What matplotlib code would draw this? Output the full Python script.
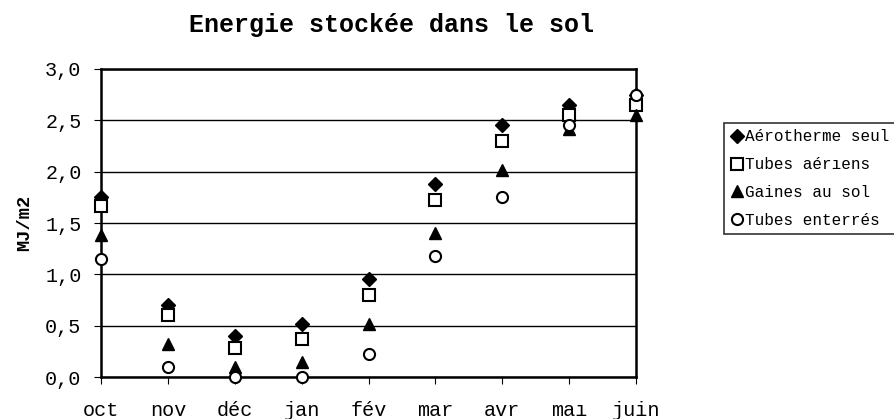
import numpy as np
import matplotlib.pyplot as plt
from matplotlib.ticker import FuncFormatter

mois = ['oct', 'nov', 'déc', 'jan', 'fév', 'mar', 'avr', 'maı', 'juin']
aerotherme = [1.75, 0.70, 0.40, 0.52, 0.95, 1.88, 2.45, 2.65, 2.75]
tubes_aeriens = [1.67, 0.60, 0.28, 0.37, 0.80, 1.72, 2.30, 2.55, 2.65]
gaines_sol = [1.38, 0.32, 0.10, 0.15, 0.52, 1.40, 2.02, 2.42, 2.55]
tubes_enterres = [1.15, 0.10, 0.00, 0.00, 0.22, 1.18, 1.75, 2.45, 2.75]

plt.rcParams['font.family'] = ['Liberation Mono', 'DejaVu Sans Mono']

fig = plt.figure(figsize=(8.95, 4.19), dpi=100)
ax = fig.add_axes([101/895, 42/419, 535/895, 308/419])

x = np.arange(len(mois))
ax.plot(x, aerotherme, 'D', color='black', markersize=7, label='Aérotherme seul', clip_on=False, zorder=5)
ax.plot(x, tubes_aeriens, 's', markerfacecolor='white', markeredgecolor='black', markeredgewidth=1.5,
        markersize=9, label='Tubes aérıens', clip_on=False, zorder=5)
ax.plot(x, gaines_sol, '^', color='black', markersize=9, label='Gaines au sol', clip_on=False, zorder=5)
ax.plot(x, tubes_enterres, 'o', markerfacecolor='white', markeredgecolor='black', markeredgewidth=1.5,
        markersize=8, label='Tubes enterrés', clip_on=False, zorder=5)

ax.set_xlim(0, 8)
ax.set_ylim(0, 3)
ax.set_xticks(x)
ax.set_xticklabels(mois, fontsize=14.5)
ax.set_yticks(np.arange(0, 3.01, 0.5))
ax.yaxis.set_major_formatter(FuncFormatter(lambda v, p: f'{v:.1f}'.replace('.', ',')))
ax.tick_params(axis='y', labelsize=14.5, length=5, direction='out', pad=9)
ax.tick_params(axis='x', length=5, direction='out', pad=12)
ax.grid(axis='y', color='black', linewidth=1)
ax.set_axisbelow(True)
for s in ax.spines.values():
    s.set_linewidth(1.8)

ax.set_ylabel('MJ/m2', fontsize=13.5, fontweight='bold', labelpad=9)
fig.text(392/895, 1 - 25/419, 'Energie stockée dans le sol', fontsize=18, fontweight='bold',
         ha='center', va='center')

leg = fig.legend(loc='upper left', bbox_to_anchor=(724/895, 1 - 123/419), fontsize=11.5,
                 frameon=True, fancybox=False, edgecolor='black', handletextpad=0.1,
                 handlelength=0.8, borderpad=0.4, labelspacing=0.8, borderaxespad=0)
leg.get_frame().set_linewidth(1.2)

fig.savefig('out.png', dpi=100)
